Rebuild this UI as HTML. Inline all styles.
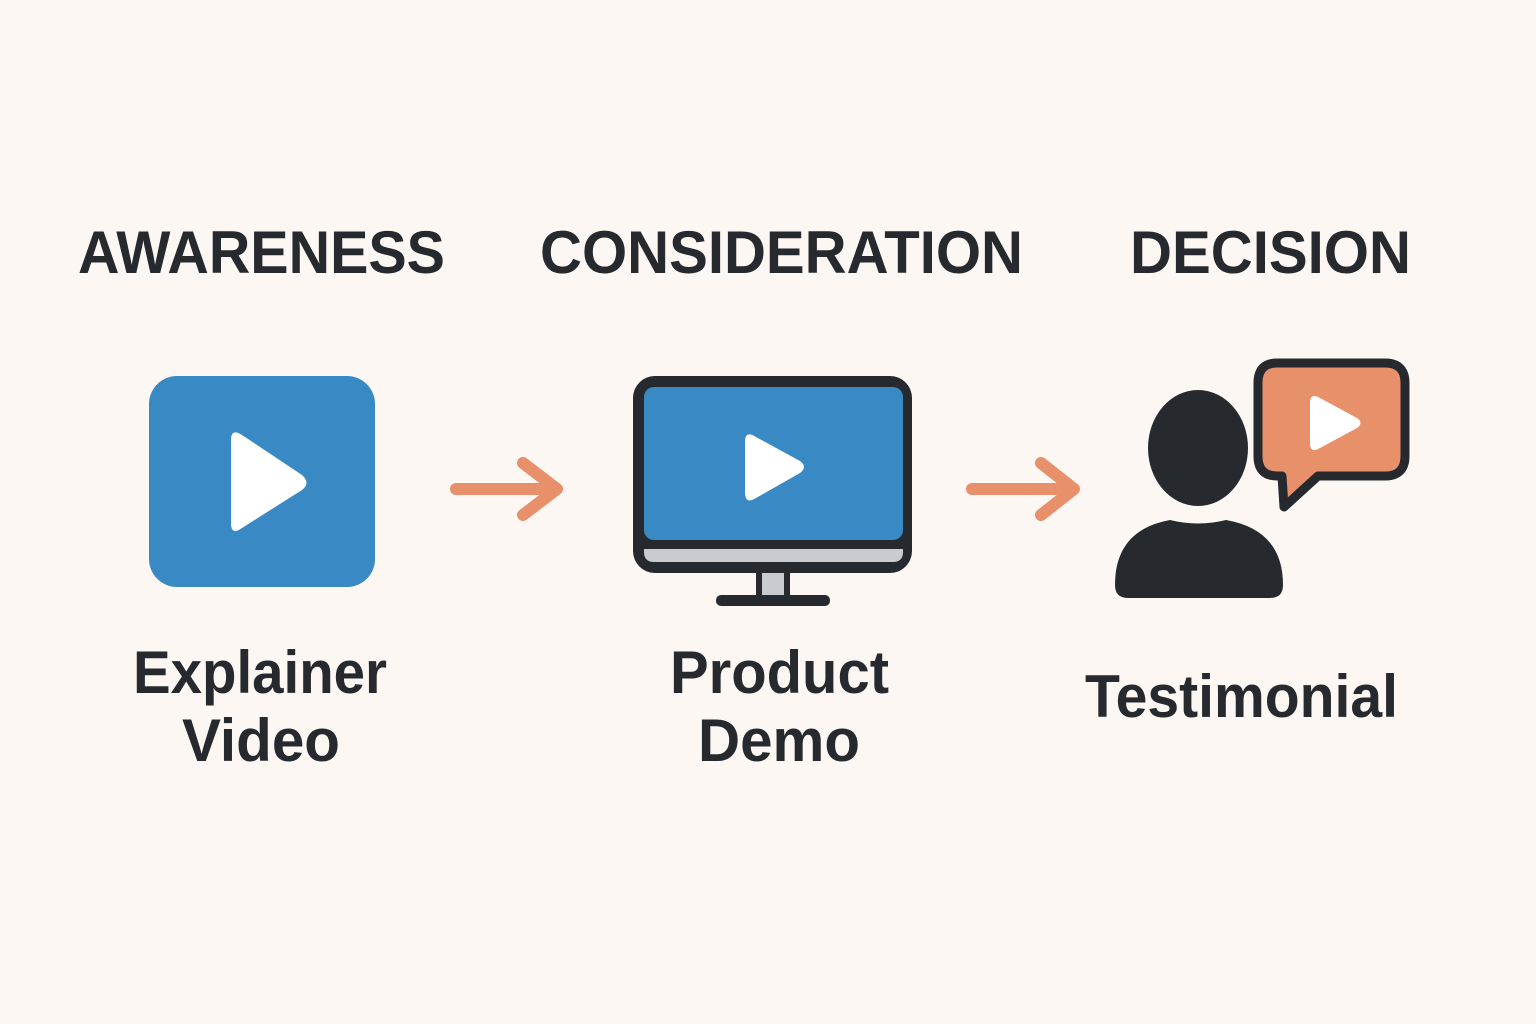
<!DOCTYPE html>
<html><head><meta charset="utf-8"><style>
html,body{margin:0;padding:0;background:#fcf7f2;}
svg{display:block;}
text{font-family:"Liberation Sans",sans-serif;font-weight:bold;fill:#262a2e;}
</style></head><body>
<svg width="1536" height="1024" viewBox="0 0 1536 1024" xmlns="http://www.w3.org/2000/svg">
<rect width="1536" height="1024" fill="#fcf7f2"/>
<text x="78" y="273" font-size="60" textLength="367" lengthAdjust="spacingAndGlyphs">AWARENESS</text>
<text x="540" y="273" font-size="60" textLength="483" lengthAdjust="spacingAndGlyphs">CONSIDERATION</text>
<text x="1130" y="273" font-size="60" textLength="281" lengthAdjust="spacingAndGlyphs">DECISION</text>

<!-- blue square -->
<rect x="149" y="376" width="226" height="211" rx="28" fill="#3889c4"/>
<path d="M231 440 Q231 428 242 435 L302 475 Q311 483 302 490 L242 528 Q231 536 231 523 Z" fill="#fff"/>

<!-- arrows -->
<g stroke="#e8906a" stroke-width="12" stroke-linecap="round" stroke-linejoin="round" fill="none">
<line x1="456" y1="489" x2="555" y2="489"/>
<polyline points="523,463 557,489 523,515"/>
<line x1="972" y1="489" x2="1071" y2="489"/>
<polyline points="1041,463 1074,489 1041,515"/>
</g>

<!-- monitor -->
<rect x="759" y="568" width="28" height="30" fill="#c8ccd0" stroke="#262a2e" stroke-width="6"/>
<rect x="716" y="595" width="114" height="11" rx="5" fill="#262a2e"/>
<rect x="633" y="376" width="279" height="197" rx="22" fill="#262a2e"/>
<rect x="644" y="387" width="259" height="153" rx="10" fill="#3889c4"/>
<path d="M644 549 H903 V552 Q903 562 893 562 H654 Q644 562 644 552 Z" fill="#c8ccd0"/>
<path d="M745 442 Q745 430 756 437 L800 461 Q808 467 800 473 L756 498 Q745 505 745 492 Z" fill="#fff"/>

<!-- person -->
<ellipse cx="1198" cy="448" rx="50" ry="58" fill="#262a2e"/>
<path d="M1115 585 Q1115 530 1170 520 Q1198 527 1226 520 Q1283 530 1283 585 Q1283 598 1270 598 H1128 Q1115 598 1115 585 Z" fill="#262a2e"/>
<!-- bubble -->
<path d="M1277 363 H1385 Q1405 363 1405 383 V456 Q1405 476 1385 476 H1318 L1284 507 L1282 476 H1277 Q1258 476 1258 456 V383 Q1258 363 1277 363 Z" fill="#e8906a" stroke="#262a2e" stroke-width="9" stroke-linejoin="round"/>
<path d="M1310 403 Q1310 392 1320 398 L1357 418 Q1364 423 1357 428 L1320 448 Q1310 454 1310 443 Z" fill="#fff"/>

<text x="133" y="693" font-size="60" textLength="254" lengthAdjust="spacingAndGlyphs">Explainer</text>
<text x="182" y="761" font-size="60" textLength="158" lengthAdjust="spacingAndGlyphs">Video</text>
<text x="670" y="693" font-size="60" textLength="219" lengthAdjust="spacingAndGlyphs">Product</text>
<text x="698" y="761" font-size="60" textLength="162" lengthAdjust="spacingAndGlyphs">Demo</text>
<text x="1085" y="717" font-size="60" textLength="313" lengthAdjust="spacingAndGlyphs">Testimonial</text>
</svg>
</body></html>
